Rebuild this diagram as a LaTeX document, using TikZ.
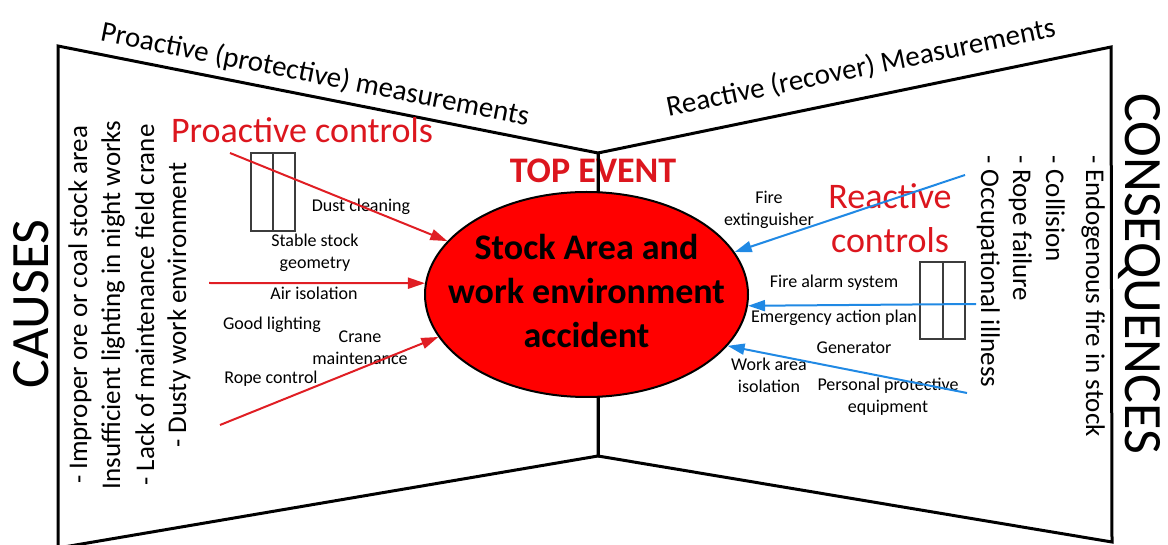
\documentclass[tikz,border=0pt]{standalone}
\usepackage{fontspec}
\setmainfont{Carlito}
\usetikzlibrary{arrows.meta,shapes.geometric}
\definecolor{evred}{RGB}{255,0,0}
\definecolor{ctrlred}{RGB}{220,22,30}
\definecolor{arrred}{RGB}{224,30,36}
\definecolor{arrblue}{RGB}{32,137,228}
\definecolor{boxgray}{RGB}{60,60,60}
\newcommand{\setfs}[2]{\fontsize{#1}{#2}\selectfont}

\begin{document}
\begin{tikzpicture}[x=1pt,y=-1pt,
  frame/.style={draw=black, line width=3pt, line join=miter},
  barrier/.style={draw=boxgray, line width=1.2pt},
  proarrow/.style={draw=arrred, line width=2pt, -{Triangle[length=17pt,width=11pt]}},
  rearrow/.style={draw=arrblue, line width=2pt, -{Triangle[length=17pt,width=11pt]}},
  lbl/.style={inner sep=0pt, font=\setfs{18}{22}, align=center},
  listitem/.style={inner sep=0pt, font=\setfs{27}{32}},
  bigtitle/.style={inner sep=0pt, font=\setfs{54}{60}},
  edgetitle/.style={inner sep=0pt, font=\setfs{29}{34}},
  ctrl/.style={inner sep=0pt, text=ctrlred, font=\setfs{36}{44}, align=center},
]
\useasboundingbox (0,0) rectangle (1168,545);

% bow-tie outline
\begin{scope}
  \clip (0,0) rectangle (1168,545);
  \draw[frame] (58,46) -- (598,153) -- (598,456) -- (58,548) -- cycle;
  \draw[frame] (598,153) -- (1111,47) -- (1112,542) -- (598,456);
\end{scope}

% side headings
\node[bigtitle, rotate=90, anchor=base] (causes) at (48,304) {CAUSES};
\node[bigtitle, rotate=-90, anchor=base] (conseq) at (1125,273.5) {CONSEQUENCES};

% headings along the upper edges
\node[edgetitle, rotate=-11.2] (protitle) at (315,75) {Proactive (protective) measurements};
\node[edgetitle, rotate=11.6] (retitle) at (861,68) {Reactive (recover) Measurements};

% causes
\node[listitem, rotate=90, anchor=base] (c1) at (87,305) {- Improper ore or coal stock area};
\node[listitem, rotate=90, anchor=base] (c2) at (120,305) {Insufficient lighting in night works};
\node[listitem, rotate=90, anchor=base] (c3) at (154,305) {- Lack of maintenance field crane};
\node[listitem, rotate=90, anchor=base] (c4) at (186,305) {- Dusty work environment};

% consequences
\node[listitem, rotate=-90, anchor=base west] (q1) at (1086,155) {- Endogenous fire in stock};
\node[listitem, rotate=-90, anchor=base west] (q2) at (1046,155) {- Collision};
\node[listitem, rotate=-90, anchor=base west] (q3) at (1013,155) {- Rope failure};
\node[listitem, rotate=-90, anchor=base west] (q4) at (981,155) {- Occupational illness};

% control headings
\node[ctrl, anchor=base] (proctl) at (302,143) {Proactive controls};
\node[ctrl] (rectl) at (890,218.5) {Reactive\\controls};
\node[ctrl, font=\bfseries\setfs{36}{44}, anchor=base] (topev) at (593,183) {TOP EVENT};

% barrier symbols
\draw[barrier] (251,153) rectangle (273,231);
\draw[barrier] (273,153) rectangle (295,231);
\draw[barrier] (920,262) rectangle (943,339);
\draw[barrier] (943,262) rectangle (965,339);

% proactive barrier labels
\node[lbl] (dust) at (361,207) {Dust cleaning};
\node[lbl] (stable) at (315,253) {Stable stock\\geometry};
\node[lbl] (air) at (314,293) {Air isolation};
\node[lbl] (light) at (272,325) {Good lighting};
\node[lbl] (crane) at (360,348) {Crane\\maintenance};
\node[lbl] (rope) at (271,379) {Rope control};

% reactive barrier labels
\node[lbl] (ext) at (769,210) {Fire\\extinguisher};
\node[lbl] (alarm) at (834,283) {Fire alarm system};
\node[lbl] (plan) at (834,318) {Emergency action plan};
\node[lbl] (gen) at (854,348) {Generator};
\node[lbl] (iso) at (769,375) {Work area\\isolation};
\node[lbl] (ppe) at (888,396.5) {Personal protective\\equipment};

% centre line and top event
\draw[frame] (598,153) -- (598,456);
\node[draw=black, line width=2pt, fill=evred, ellipse, minimum width=323pt, minimum height=205pt,
      inner sep=0pt] (event) at (586.5,294.5) {};
\node[inner sep=0pt, align=center, font=\bfseries\setfs{36}{44}] (eventtext) at (586.5,291)
      {Stock Area and\\work environment\\accident};

% connectors
\coordinate (ps1) at (230,153);
\coordinate (ps2) at (209,283);
\coordinate (ps3) at (220,425);
\coordinate (rs1) at (965,175);
\coordinate (rs2) at (976,304);
\coordinate (rs3) at (967,393);
\draw[proarrow] (ps1) -- (event.159.5);
\draw[proarrow] (ps2) -- (event.176.3);
\draw[proarrow] (ps3) -- (event.196.4);
\draw[rearrow] (rs1) -- (event.16.5);
\draw[rearrow] (rs2) -- (event.356.6);
\draw[rearrow] (rs3) -- (event.340.1);
\end{tikzpicture}
\end{document}
